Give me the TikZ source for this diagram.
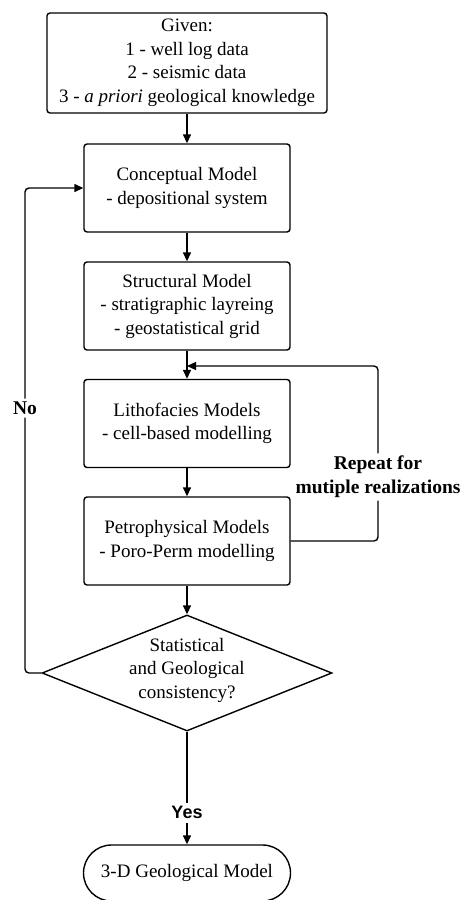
\documentclass[tikz,border=0pt]{standalone}
\usepackage{fontspec}
\setmainfont{Liberation Serif}
\newfontfamily\sansfont{Liberation Sans}
\usetikzlibrary{arrows.meta,shapes.geometric,shapes.misc}
\begin{document}
\begin{tikzpicture}[x=1pt,y=-1pt,
  line width=1.4pt,
  txt/.style={font=\fontsize{19}{23.5}\selectfont, align=center},
  box/.style={txt, draw, rounded corners=3pt, minimum width=206pt, minimum height=88pt, inner sep=0pt},
  arr/.style={-{Triangle[length=9pt,width=8pt]}},
  lbl/.style={fill=white, font=\bfseries\fontsize{19.5}{23.5}\selectfont, align=center, inner sep=3pt},
  yeslbl/.style={fill=white, font=\sansfont\bfseries\fontsize{18}{22}\selectfont, inner sep=4pt}
]
\useasboundingbox[fill=white] (0,0) rectangle (462,900);

\node[box, minimum width=280pt, minimum height=100pt] (given) at (187,63)
  {Given:\\1 - well log data\\2 - seismic data\\3 - \textit{a priori} geological knowledge};
\node[box] (concept) at (187,188) {Conceptual Model\\- depositional system};
\node[box] (struct) at (187,306) {Structural Model\\- stratigraphic layreing\\- geostatistical grid};
\node[box] (litho) at (187,423.5) {Lithofacies Models\\- cell-based modelling};
\node[box] (petro) at (187,541) {Petrophysical Models\\- Poro-Perm modelling};
\node[draw, diamond, minimum width=290pt, minimum height=116pt, inner sep=0pt] (dia) at (187,673) {};
\node[txt] (diatext) at (187,670) {Statistical\\and Geological\\consistency?};
\node[txt, draw, rounded rectangle, minimum width=207pt, minimum height=56pt, inner sep=0pt] (term) at (187,873) {3-D Geological Model};

\coordinate (nocorner) at (25,673);
\coordinate (repcorner) at (378,541);
\coordinate (repend) at (187,366);

\draw[arr] (given) -- (concept);
\draw[arr] (concept) -- (struct);
\draw[arr] (struct) -- (litho);
\draw[arr] (litho) -- (petro);
\draw[arr] (petro) -- (dia.north);
\draw[arr] (dia.south) -- node[yeslbl, pos=0.72] {Yes} (term.north);
\draw[arr, rounded corners=4pt] (dia.west) -- (nocorner) |- node[lbl, pos=0.273] {No} (concept.west);
\draw[arr, rounded corners=4pt] (petro.east) -- (repcorner) |- node[lbl, pos=0.183] {Repeat for\\mutiple realizations} (repend);
\end{tikzpicture}
\end{document}
